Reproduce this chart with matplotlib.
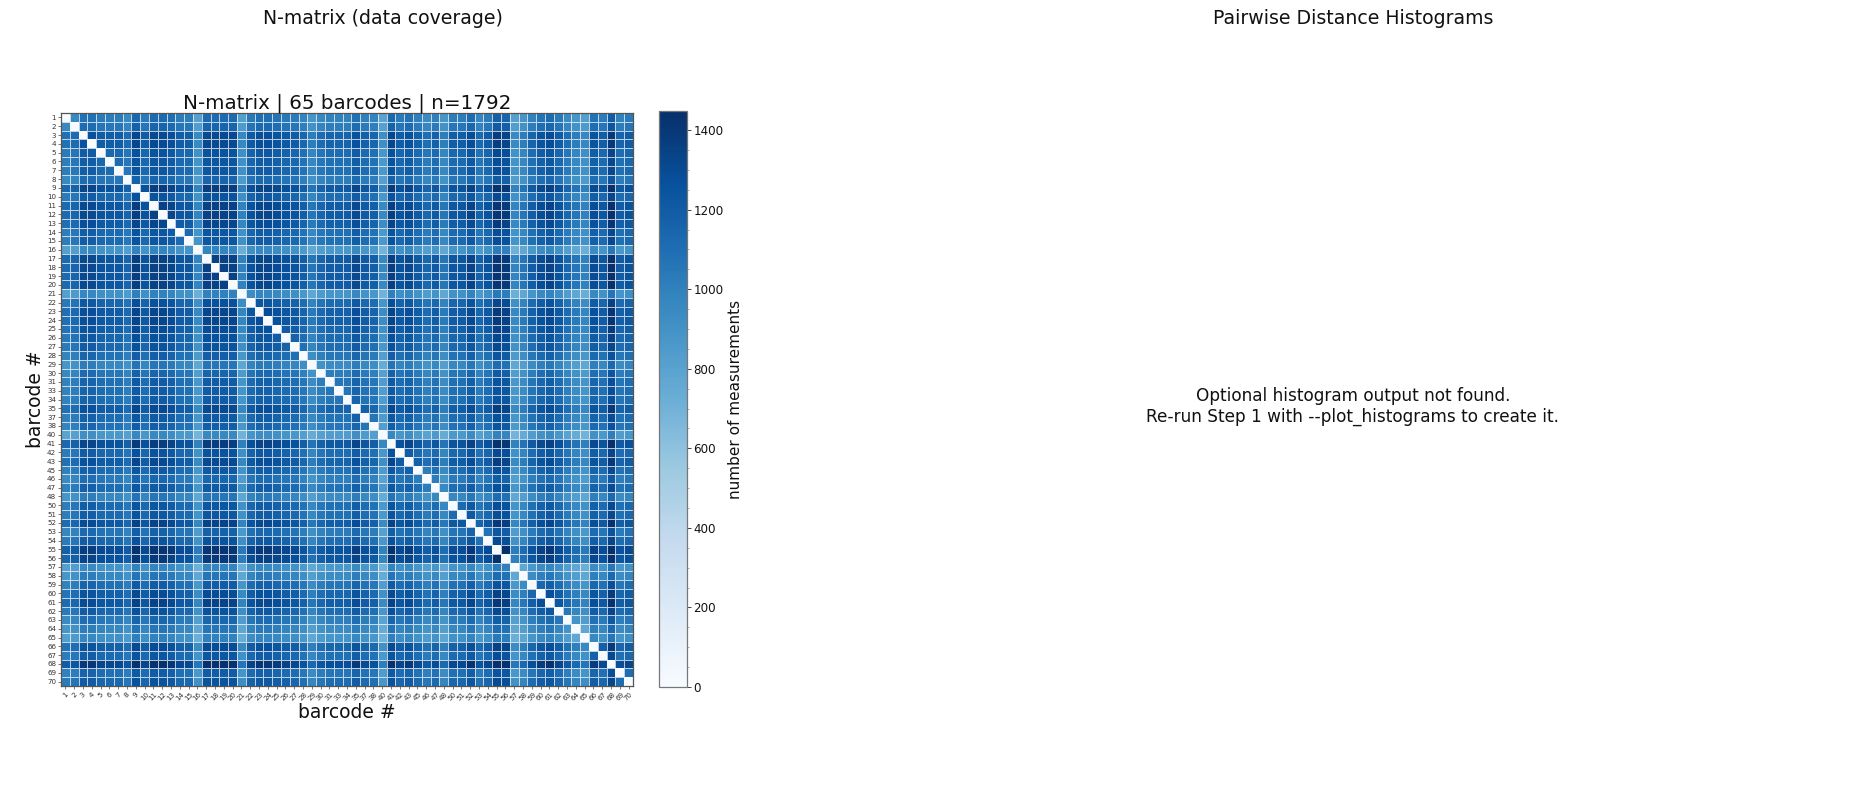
import numpy as np
import matplotlib
matplotlib.use("Agg")
import matplotlib.pyplot as plt
from matplotlib.ticker import MultipleLocator

barcodes = [*range(1, 32), 33, 34, 35, 37, 38, 40, 41, 42, 43, 45, 46, 47, 48,
            *range(50, 71)]

# Share of the 1792 measurements in which each barcode was detected.
detection = [0.72, 0.74, 0.84, 0.84, 0.80, 0.79, 0.79, 0.74, 0.88, 0.80,
             0.87, 0.87, 0.85, 0.79, 0.79, 0.63, 0.87, 0.87, 0.87, 0.87,
             0.64, 0.81, 0.85, 0.85, 0.83, 0.81, 0.80, 0.76, 0.68, 0.74,
             0.77, 0.77, 0.77, 0.84, 0.78, 0.76, 0.61, 0.88, 0.80, 0.84,
             0.78, 0.73, 0.78, 0.68, 0.79, 0.79, 0.86, 0.75, 0.80, 0.91,
             0.89, 0.63, 0.68, 0.77, 0.83, 0.86, 0.80, 0.73, 0.68, 0.64,
             0.83, 0.79, 0.93, 0.77, 0.80]
n_measurements = 1792
vmax = 1448

cbar_ticks = [0, 200, 400, 600, 800, 1000, 1200, 1400]

# Pair counts follow from the per-barcode detection shares; the diagonal stays empty.
p = np.array(detection)
N = n_measurements * np.outer(p, p)
np.fill_diagonal(N, 0)

W, H = 1863, 790
fig = plt.figure(figsize=(W / 100, H / 100), dpi=100, facecolor="white")


def rect(x0, y0, x1, y1):
    return [x0 / W, 1 - y1 / H, (x1 - x0) / W, (y1 - y0) / H]


ax = fig.add_axes(rect(61, 113, 633, 686))
mesh = ax.pcolormesh(N, cmap="Blues", vmin=0, vmax=vmax,
                     edgecolors=(1, 1, 1, 0.7), linewidth=0.5)
ax.set_xlim(0, len(barcodes))
ax.set_ylim(len(barcodes), 0)
pos = np.arange(len(barcodes)) + 0.5
ax.set_xticks(pos, [str(b) for b in barcodes], rotation=45, fontsize=5.1,
              color="#333333")
ax.set_yticks(pos, [str(b) for b in barcodes], fontsize=5.1, color="#333333")
ax.tick_params(length=2, width=0.5, pad=1.5, color="#444444")
for s in ax.spines.values():
    s.set_linewidth(0.9)
    s.set_color("#555555")
ax.set_title(f"N-matrix | {len(barcodes)} barcodes | n={n_measurements}",
             fontsize=14.3, pad=3.5, color="#111111")
ax.set_xlabel("barcode #", fontsize=13.5, labelpad=1, color="#111111")
ax.set_ylabel("barcode #", fontsize=13.5, labelpad=1.5, color="#111111")

cax = fig.add_axes(rect(659, 111, 687, 687))
cb = fig.colorbar(mesh, cax=cax)
cb.set_ticks(cbar_ticks)
cb.ax.yaxis.set_minor_locator(MultipleLocator(50))
cb.ax.tick_params(which="major", labelsize=8.6, length=3, width=0.7,
                  color="#444444", labelcolor="#111111", pad=1.5)
cb.ax.tick_params(which="minor", length=1.3, width=0.5, color="#888888")
cb.outline.set_edgecolor("#777777")
cb.outline.set_linewidth(0.9)
cb.set_label("number of measurements", fontsize=11, labelpad=3, color="#111111")

fig.text(383 / W, 1 - 19 / H, "N-matrix (data coverage)", fontsize=13.6,
         ha="center", va="center", color="#111111")
fig.text(1353 / W, 1 - 19 / H, "Pairwise Distance Histograms", fontsize=13.6,
         ha="center", va="center", color="#111111")
fig.text(1353 / W, 1 - 406.5 / H,
         "Optional histogram output not found.\nRe-run Step 1 with --plot_histograms to create it.",
         fontsize=12.15, ha="center", va="center", color="#111111", linespacing=1.15)

fig.savefig("out.png", dpi=100, facecolor="white")
